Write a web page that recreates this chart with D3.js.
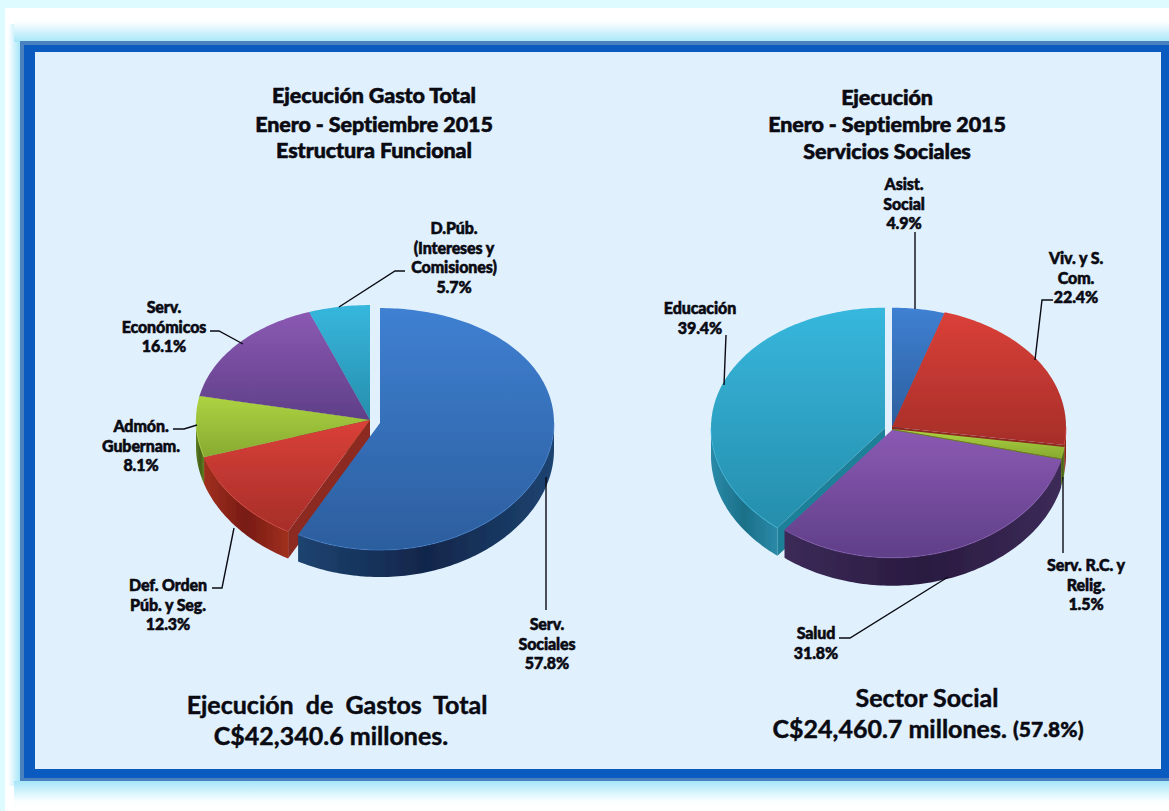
<!DOCTYPE html>
<html>
<head>
<meta charset="utf-8">
<script src="https://cdn.jsdelivr.net/npm/d3@7"></script>
<style>
  html, body { margin: 0; padding: 0; background: #fff; overflow: hidden; }
  svg { display: block; }
  text { font-family: Lato, "Open Sans", sans-serif; font-weight: 900; fill: #0a0a12; text-anchor: middle; dominant-baseline: central; }
  .lbl { font-size: 16px; stroke: #0a0a12; stroke-width: 0.55px; letter-spacing: -0.1px; }
  .ttl { font-size: 21.5px; stroke: #0a0a12; stroke-width: 0.55px; letter-spacing: -0.1px; }
  .big { font-size: 25px; font-weight: 700; stroke: #0a0a12; stroke-width: 0.45px; }
</style>
</head>
<body>
<svg id="vis" width="1169" height="811"></svg>
<script>
// chart values
const funcNames = [["Serv.", "Sociales"], ["Def. Orden", "Púb. y Seg."], ["Admón.", "Gubernam."], ["Serv.", "Económicos"], ["D.Púb.", "(Intereses y", "Comisiones)"]]
const funcValues = [57.8, 12.3, 8.1, 16.1, 5.7]
const socNames = [["Asist.", "Social"], ["Viv. y S.", "Com."], ["Serv. R.C. y", "Relig."], ["Salud"], ["Educación"]]
const socValues = [4.9, 22.4, 1.5, 31.8, 39.4]

// same colour order in both pies: top start, top end, wall light, wall dark, cut face
const colors = [
  ["#3f80d2", "#2c5e9e", "#1d4370", "#11264a", "#1c4474"],
  ["#da4038", "#a62e29", "#a0301f", "#781a13", "#8c2a20"],
  ["#add342", "#87aa30", "#5f8024", "#466018", "#5f8024"],
  ["#8b59b3", "#5f3f88", "#3c2a58", "#291b40", "#3a2858"],
  ["#37b7dd", "#268eac", "#2a8aa8", "#1b7088", "#1f8098"]
]

// layout of the two pies
const pies = [
  { values: funcValues, names: funcNames, cx: 370, cy: 420, rx: 174, ry: 121, k: 0.05, depth: 27,
    offsets: [[10, 3], [0, 0], [0, 0], [0, 0], [0, 0]], order: [4, 3, 2, 1, 0],
    labels: [[547, 623], [168, 584], [141, 425], [164, 306], [454, 227]],
    leaders: [
      [[546, 477], [546, 610]],
      [[212, 588], [222, 588], [234, 528]],
      [[173, 429], [184, 429], [197, 425]],
      [[210, 331], [219, 331], [243, 344]],
      [[405, 271], [395, 271], [339, 307]]
    ] },
  { values: socValues, names: socNames, cx: 892, cy: 428, rx: 174, ry: 124, k: 0.03, depth: 28,
    offsets: [[0, 0], [0, -1], [0, 1], [0, 2], [-7, 0]], order: [0, 1, 2, 4, 3],
    labels: [[904, 183], [1076, 257], [1086, 564], [816, 632], [700, 307]],
    leaders: [
      [[915, 232], [915, 309]],
      [[1053, 300], [1042, 300], [1035, 360]],
      [[1063, 477], [1063, 553]],
      [[839, 638], [850, 638], [948, 577]],
      [[726, 335], [724, 385]]
    ] }
]
const lineStep = 19.5

const svg = d3.select("#vis")
const defs = svg.append("defs")
const soft = defs.append("filter").attr("id", "soft").attr("x", "-5%").attr("y", "-5%").attr("width", "110%").attr("height", "110%")
soft.append("feGaussianBlur").attr("stdDeviation", 0.7)

function vGrad(id, stops) {
  const g = defs.append("linearGradient").attr("id", id).attr("x1", 0).attr("y1", 0).attr("x2", 0).attr("y2", 1)
  stops.forEach(s => g.append("stop").attr("offset", s[0]).attr("stop-color", s[1]))
}
function hGrad(id, stops) {
  const g = defs.append("linearGradient").attr("id", id).attr("x1", 0).attr("y1", 0).attr("x2", 1).attr("y2", 0)
  stops.forEach(s => g.append("stop").attr("offset", s[0]).attr("stop-color", s[1]))
}

// page background and frame
vGrad("glowTop", [[0, "#ffffff"], [0.25, "#fbfeff"], [1, "#a6e6f9"]])
vGrad("glowBot", [[0, "#a6e6f9"], [0.75, "#f8feff"], [1, "#ffffff"]])
hGrad("glowLeft", [[0, "#ffffff"], [1, "#a6e6f9"]])
svg.append("rect").attr("width", 1169).attr("height", 811).attr("fill", "#defcff")
svg.append("rect").attr("x", 5).attr("y", 8).attr("width", 1164).attr("height", 803).attr("fill", "#fff")
svg.append("rect").attr("x", 8).attr("y", 24).attr("width", 12).attr("height", 762).attr("fill", "url(#glowLeft)")
svg.append("rect").attr("x", 14).attr("y", 16).attr("width", 1155).attr("height", 26).attr("fill", "url(#glowTop)")
svg.append("rect").attr("x", 14).attr("y", 781).attr("width", 1155).attr("height", 26).attr("fill", "url(#glowBot)")
svg.append("rect").attr("x", 20).attr("y", 41).attr("width", 1149).attr("height", 740).attr("fill", "#4a80bd")
svg.append("rect").attr("x", 24).attr("y", 45).attr("width", 1145).attr("height", 733).attr("fill", "#0a5abf")
svg.append("rect").attr("x", 35).attr("y", 52).attr("width", 1126).attr("height", 717).attr("fill", "#e0f0fd")

const pieGen = d3.pie().sort(null).value(d => d)
const line = d3.line()

pies.forEach((p, pi) => {
  const arcs = pieGen(p.values)
  // tilted disc: the near half of the pie is drawn a little larger
  const project = (a, r, o, dz) => {
    const u = -Math.cos(a) * r, v = Math.sin(a) * r
    return [p.cx + o[0] + p.rx * v, p.cy + o[1] + p.ry * u * (1 + p.k * u) + dz]
  }
  const arcPts = (a0, a1, o, dz) => {
    const n = Math.max(2, Math.ceil((a1 - a0) / 0.02))
    return d3.range(n + 1).map(i => project(a0 + (a1 - a0) * i / n, 1, o, dz))
  }
  const g = svg.append("g").attr("filter", "url(#soft)")
  p.order.forEach(i => {
    const d = arcs[i], o = p.offsets[i], c = colors[i], id = `p${pi}s${i}`
    vGrad(id + "top", [[0, c[0]], [1, c[1]]])
    hGrad(id + "wall", [[0, c[2]], [0.5, c[3]], [1, c[2]]])
    // outer wall on the near half
    const w0 = Math.max(d.startAngle, Math.PI / 2), w1 = Math.min(d.endAngle, Math.PI * 1.5)
    if (w1 > w0) {
      g.append("path")
        .attr("d", line(arcPts(w0, w1, o, 0).concat(arcPts(w0, w1, o, p.depth).reverse())) + "Z")
        .attr("fill", `url(#${id}wall)`)
    }
    // cut faces that look at the viewer
    ;[[d.startAngle, d.startAngle > Math.PI && d.startAngle < 2 * Math.PI], [d.endAngle, d.endAngle > 0 && d.endAngle < Math.PI]]
      .filter(e => e[1])
      .forEach(e => {
        const rim = project(e[0], 1, o, 0), mid = project(0, 0, o, 0)
        g.append("path")
          .attr("d", line([mid, rim, [rim[0], rim[1] + p.depth], [mid[0], mid[1] + p.depth]]) + "Z")
          .attr("fill", c[4])
      })
    // top of the slice
    const apex = project(0, 0, o, 0)
    g.append("path")
      .attr("d", line([apex].concat(arcPts(d.startAngle, d.endAngle, o, 0))) + "Z")
      .attr("fill", `url(#${id}top)`)
    // light rim on the near edge
    if (w1 > w0) {
      g.append("path")
        .attr("d", line(arcPts(w0, w1, o, 0)))
        .attr("fill", "none").attr("stroke", c[0]).attr("stroke-width", 1.2).attr("stroke-opacity", 0.5)
    }
  })

  // leader lines
  p.leaders.forEach(l => {
    svg.append("path").attr("d", line(l)).attr("fill", "none").attr("stroke", "#0a0a12").attr("stroke-width", 1.4)
  })

  // slice labels
  p.values.forEach((v, i) => {
    const rows = p.names[i].concat(v.toFixed(1) + "%")
    const t = svg.append("text").attr("class", "lbl")
    rows.forEach((r, j) => {
      t.append("tspan").attr("x", p.labels[i][0]).attr("y", p.labels[i][1] + j * lineStep).text(r)
    })
  })
})

// titles
const titles = [
  { x: 374, ys: [95, 124, 150], rows: ["Ejecución Gasto Total", "Enero - Septiembre 2015", "Estructura Funcional"] },
  { x: 887, ys: [97, 124, 151], rows: ["Ejecución", "Enero - Septiembre 2015", "Servicios Sociales"] }
]
titles.forEach(t => t.rows.forEach((r, j) => {
  svg.append("text").attr("class", "ttl").attr("x", t.x).attr("y", t.ys[j]).text(r)
}))

// totals under the pies
svg.append("text").attr("class", "big").attr("x", 337).attr("y", 704).style("word-spacing", "6px").text("Ejecución de Gastos Total")
svg.append("text").attr("class", "big").attr("x", 331).attr("y", 735).text("C$42,340.6 millones.")
svg.append("text").attr("class", "big").attr("x", 927).attr("y", 697).text("Sector Social")
const tot = svg.append("text").attr("class", "big").attr("x", 928).attr("y", 728)
tot.append("tspan").text("C$24,460.7 millones. ")
tot.append("tspan").style("font-size", "21px").style("font-weight", 900).text("(57.8%)")
</script>
</body>
</html>
